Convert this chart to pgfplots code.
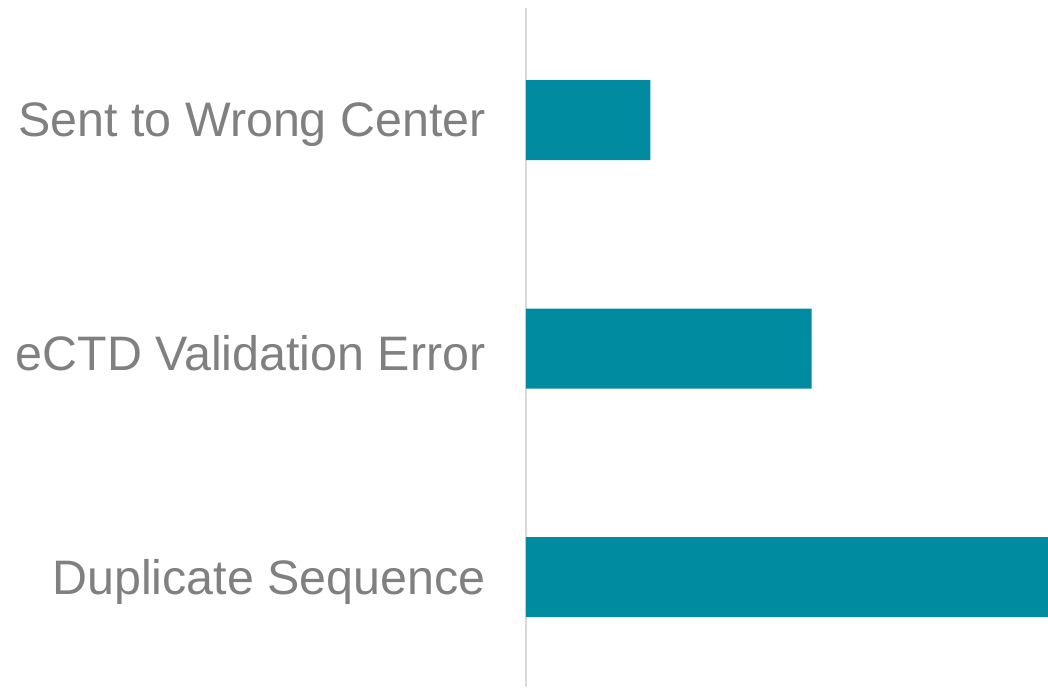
\documentclass[border=0pt]{standalone}
\usepackage{fontspec}
\setmainfont{Liberation Sans}
\usepackage{pgfplots}
\pgfplotsset{compat=1.18}
\definecolor{barteal}{RGB}{0,139,160}
\definecolor{labelgray}{RGB}{128,128,128}
\definecolor{axisgray}{RGB}{217,217,217}
\begin{document}
\begin{tikzpicture}
  \begin{axis}[
      at={(0,0)}, anchor=south west,
      scale only axis,
      width=261pt, height=339.5pt,
      xbar,
      bar width=40pt,
      xmin=0, xmax=55,
      ymin=-0.481, ymax=2.491,
      ytick={0,1,2},
      yticklabels={Duplicate Sequence,eCTD Validation Error,Sent to Wrong Center},
      axis x line=none,
      axis y line*=left,
      y axis line style={draw=axisgray, line width=1pt},
      major tick length=0pt,
      yticklabel style={font=\fontsize{24.2pt}{29pt}\selectfont, text=labelgray,
        inner sep=0pt, anchor=east, xshift=-20pt, yshift=-2.2pt},
    ]
    \addplot[draw=none, fill=barteal] coordinates {
      (55,0) (30.1,1) (13.1,2)
    };
  \end{axis}
  \pgfresetboundingbox
  \path (-263pt,0pt) rectangle (261pt,343.5pt);
\end{tikzpicture}
\end{document}
